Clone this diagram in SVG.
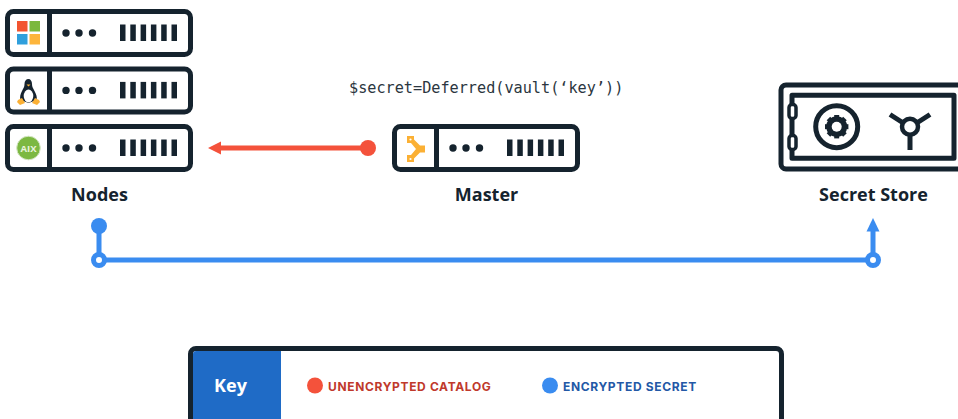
<svg xmlns="http://www.w3.org/2000/svg" width="958" height="419" viewBox="0 0 958 419">
<style>
.ln{fill:none;stroke:#15232e;stroke-width:5}
.dk{fill:#15232e}
.lbl{font-family:"Open Sans",sans-serif;font-weight:700;font-size:18px;fill:#15232e;text-anchor:middle}
.code{font-family:"DejaVu Sans Mono",monospace;font-size:15.2px;fill:#2b3640}
.key{font-family:Inter,sans-serif;font-weight:700;font-size:12px;letter-spacing:.65px}
.b{fill:none;stroke:#3a8cf0;stroke-width:5}
</style>
<defs>
<g id="server">
<rect class="ln" x="7.500" y="11.500" width="183" height="43" rx="6"/>
<rect class="dk" x="47" y="11" width="5" height="44"/>
<circle class="dk" cx="66" cy="33" r="3.700"/><circle class="dk" cx="79" cy="33" r="3.700"/><circle class="dk" cx="92.500" cy="33" r="3.700"/>
<rect class="dk" x="120" y="24.500" width="5.500" height="16.500"/><rect class="dk" x="130.300" y="24.500" width="5.500" height="16.500"/><rect class="dk" x="140.600" y="24.500" width="5.500" height="16.500"/><rect class="dk" x="150.900" y="24.500" width="5.500" height="16.500"/><rect class="dk" x="161.200" y="24.500" width="5.500" height="16.500"/><rect class="dk" x="171.500" y="24.500" width="5.500" height="16.500"/>
</g>
</defs>
<rect width="958" height="419" fill="#fff"/>
<g id="node-windows"><use href="#server"/>
<rect x="17" y="21" width="10.500" height="10.500" fill="#f25430"/><rect x="29.500" y="21" width="10.500" height="10.500" fill="#7bb83e"/><rect x="17" y="34" width="10.500" height="10.500" fill="#2f9fdc"/><rect x="29.500" y="34" width="10.500" height="10.500" fill="#fdb53c"/></g>
<g id="node-linux"><use href="#server" y="57.400"/>
<path d="M28.500 79c-2.500 0-4 2-4 5 0 3-1 4-2.500 7-1.500 3-2.500 6-1.500 9l8 3 8-3c1-3-.5-6-2-9-1.500-3-2.500-4-2.500-7 0-3-1.500-5-3.500-5z" fill="#15232e"/>
<ellipse cx="28.500" cy="96" rx="4.800" ry="6.500" fill="#fff"/>
<path d="M18 100l4-2 3 5-5 2-3-3zM39 100l-4-2-3 5 5 2 3-3z" fill="#fbb034"/><path d="M26.500 84.500h4l-2 2z" fill="#fbb034"/></g>
<g id="node-aix"><use href="#server" y="115"/>
<circle cx="28.500" cy="148" r="11.800" fill="#7cb842" stroke="#d5e6c4" stroke-width="1"/>
<text x="28.500" y="151.500" font-family="Open Sans,sans-serif" font-size="9.500" font-weight="700" fill="#e8f3dc" text-anchor="middle">AIX</text></g>
<text class="lbl" x="99.500" y="201">Nodes</text>
<g id="node-master"><use href="#server" x="387" y="115"/>
<path d="M407 136h7v3.500l6 6h5v7h-5l-6 6v3.500h-7v-7h4l5-6-5-6h-4z" fill="#fbb034"/>
<circle cx="410.500" cy="139.500" r="1.100" fill="#fff"/><circle cx="410.500" cy="159" r="1.100" fill="#fff"/></g>
<text class="lbl" x="486.500" y="201">Master</text>
<text class="code" x="349" y="93">$secret=Deferred(vault(‘key’))</text>
<g id="node-secret-store">
<path class="ln" d="M961 85H786a5 5 0 0 0-5 5V164a5 5 0 0 0 5 5H961" stroke-width="4.500"/>
<path class="ln" d="M954 95.300H792V158.200H954z" stroke-linejoin="round"/>
<rect x="789" y="104.500" width="7" height="14" rx="3" fill="#fff" stroke="#15232e" stroke-width="3.500"/>
<rect x="789" y="135.500" width="7" height="14" rx="3" fill="#fff" stroke="#15232e" stroke-width="3.500"/>
<circle class="ln" cx="836.700" cy="126.700" r="21"/>
<circle cx="836.700" cy="126.700" r="8" fill="none" stroke="#15232e" stroke-width="5"/>
<g class="dk"><rect x="834.200" y="115" width="5" height="23.400"/><rect x="825" y="124.200" width="23.400" height="5"/><rect x="834.200" y="115" width="5" height="23.400" transform="rotate(45 836.700 126.700)"/><rect x="834.200" y="115" width="5" height="23.400" transform="rotate(-45 836.700 126.700)"/></g>
<circle cx="836.700" cy="126.700" r="5" fill="#fff"/>
<circle cx="910" cy="126.700" r="8" fill="none" stroke="#15232e" stroke-width="4.500"/>
<path d="M910 135v15M902.500 122.500l-12.500-8M917.500 122.500l12.500-8" fill="none" stroke="#15232e" stroke-width="5"/>
</g>
<text class="lbl" x="873.500" y="201">Secret Store</text>
<g id="connectors">
<path d="M368 148H219" fill="none" stroke="#f4523b" stroke-width="5"/>
<path d="M208 148l13-6.500v13z" fill="#f4523b"/>
<circle cx="368" cy="148" r="8" fill="#f4523b"/>
<path class="b" d="M99 226V260H873V229"/>
<circle cx="99" cy="226" r="8" fill="#3a8cf0"/>
<circle cx="99" cy="260" r="5.500" fill="#fff" stroke="#3a8cf0" stroke-width="5"/>
<circle cx="873" cy="260" r="5.500" fill="#fff" stroke="#3a8cf0" stroke-width="5"/>
<path d="M873 218l6.500 13.500h-13z" fill="#3a8cf0"/>
</g>
<g id="legend">
<path d="M190.500 425V354a5.500 5.500 0 0 1 5.500-5.500H776a5.500 5.500 0 0 1 5.500 5.500V425" fill="#fff" stroke="#15232e" stroke-width="5"/>
<path d="M193 425V354a3 3 0 0 1 3-3H281V425z" fill="#1f6bc6"/>
<text x="230.500" y="392" font-family="Open Sans,sans-serif" font-weight="700" font-size="18" fill="#fff" text-anchor="middle">Key</text>
<circle cx="315" cy="385.500" r="8" fill="#f4523b"/>
<text class="key" x="328" y="390.500" fill="#c0392b">UNENCRYPTED CATALOG</text>
<circle cx="550" cy="385.500" r="8" fill="#3a8cf0"/>
<text class="key" x="563" y="390.500" fill="#2358a6">ENCRYPTED SECRET</text>
</g>
</svg>
